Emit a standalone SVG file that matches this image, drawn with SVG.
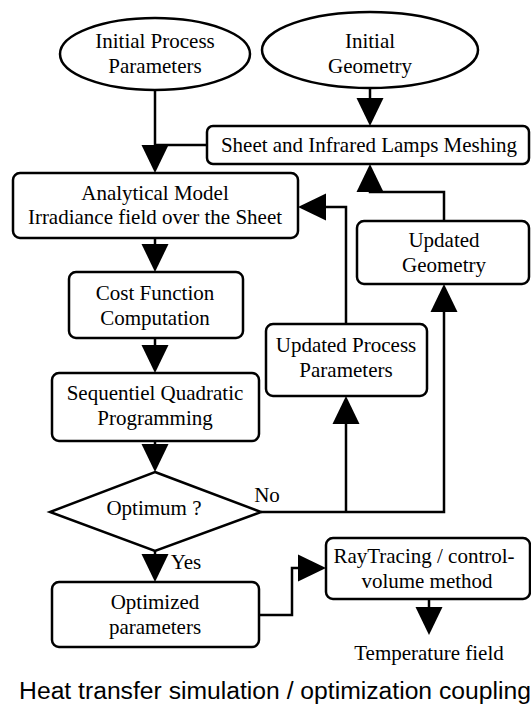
<svg xmlns="http://www.w3.org/2000/svg" width="531" height="707" viewBox="0 0 531 707">
<style>
.n{fill:#fff;stroke:#000;stroke-width:2.5}
.t{font-family:"Liberation Serif","Times New Roman",serif;font-size:21px;fill:#000;text-anchor:middle}
.c{fill:none;stroke:#000;stroke-width:2.5}
.cap{font-family:"Liberation Sans",Arial,sans-serif;font-size:24.7px;fill:#000;text-anchor:middle}
</style>
<defs>
<marker id="ah" markerUnits="userSpaceOnUse" markerWidth="28" markerHeight="28" refX="20" refY="13.5" orient="auto" viewBox="0 0 28 27">
<path d="M0,0 L28,13.5 L0,27 z" fill="#000"/>
</marker>
</defs>
<rect width="531" height="707" fill="#fff"/>
<g id="connectors">
<path class="c" d="M155,90 V165" marker-end="url(#ah)"/>
<path class="c" d="M207,145 H155"/>
<path class="c" d="M370,88 V118" marker-end="url(#ah)"/>
<path class="c" d="M444,221 V192 H370 V172" marker-end="url(#ah)"/>
<path class="c" d="M346,324 V207 H306" marker-end="url(#ah)"/>
<path class="c" d="M155,238 V264" marker-end="url(#ah)"/>
<path class="c" d="M155,338 V365" marker-end="url(#ah)"/>
<path class="c" d="M155,441 V464" marker-end="url(#ah)"/>
<path class="c" d="M261,512 H444 V292" marker-end="url(#ah)"/>
<path class="c" d="M346,512 V404" marker-end="url(#ah)"/>
<path class="c" d="M155,551 V574" marker-end="url(#ah)"/>
<path class="c" d="M259,615 H292 V568 H318" marker-end="url(#ah)"/>
<path class="c" d="M429,599 V627" marker-end="url(#ah)"/>
</g>
<g id="initialProcess">
<ellipse class="n" cx="155" cy="54" rx="95" ry="36"/>
<text class="t" x="155" y="48">Initial Process</text>
<text class="t" x="155" y="73">Parameters</text>
</g>
<g id="initialGeometry">
<ellipse class="n" cx="370" cy="50" rx="108" ry="38"/>
<text class="t" x="370" y="48">Initial</text>
<text class="t" x="370" y="73">Geometry</text>
</g>
<g id="meshing">
<rect class="n" x="207" y="126" width="322" height="38" rx="6"/>
<text class="t" x="369" y="152">Sheet and Infrared Lamps Meshing</text>
</g>
<g id="analytical">
<rect class="n" x="13" y="173" width="285" height="65" rx="7"/>
<text class="t" x="155" y="200">Analytical Model</text>
<text class="t" x="155" y="224">Irradiance field over the Sheet</text>
</g>
<g id="updatedGeometry">
<rect class="n" x="357" y="221" width="172" height="63" rx="7"/>
<text class="t" x="444" y="247">Updated</text>
<text class="t" x="444" y="272">Geometry</text>
</g>
<g id="costFunction">
<rect class="n" x="69" y="272" width="174" height="66" rx="7"/>
<text class="t" x="155" y="300">Cost Function</text>
<text class="t" x="155" y="325">Computation</text>
</g>
<g id="updatedProcess">
<rect class="n" x="266" y="324" width="161" height="72" rx="7"/>
<text class="t" x="346" y="352">Updated Process</text>
<text class="t" x="346" y="377">Parameters</text>
</g>
<g id="sqp">
<rect class="n" x="52" y="373" width="207" height="68" rx="7"/>
<text class="t" x="155" y="400">Sequentiel Quadratic</text>
<text class="t" x="155" y="425">Programming</text>
</g>
<g id="optimum">
<path class="n" d="M155,472 L261,512 L155,551 L50,512 z"/>
<text class="t" x="154" y="515">Optimum ?</text>
<text class="t" x="267" y="502">No</text>
<text class="t" x="186" y="569">Yes</text>
</g>
<g id="optimized">
<rect class="n" x="52" y="582" width="207" height="65" rx="7"/>
<text class="t" x="155" y="609">Optimized</text>
<text class="t" x="155" y="634">parameters</text>
</g>
<g id="raytracing">
<rect class="n" x="326" y="538" width="204" height="61" rx="7"/>
<text class="t" x="424" y="563">RayTracing / control-</text>
<text class="t" x="427" y="588">volume method</text>
</g>
<g id="temperature">
<text class="t" x="429" y="660">Temperature field</text>
</g>
<text class="cap" x="275" y="699">Heat transfer simulation / optimization coupling</text>
</svg>
